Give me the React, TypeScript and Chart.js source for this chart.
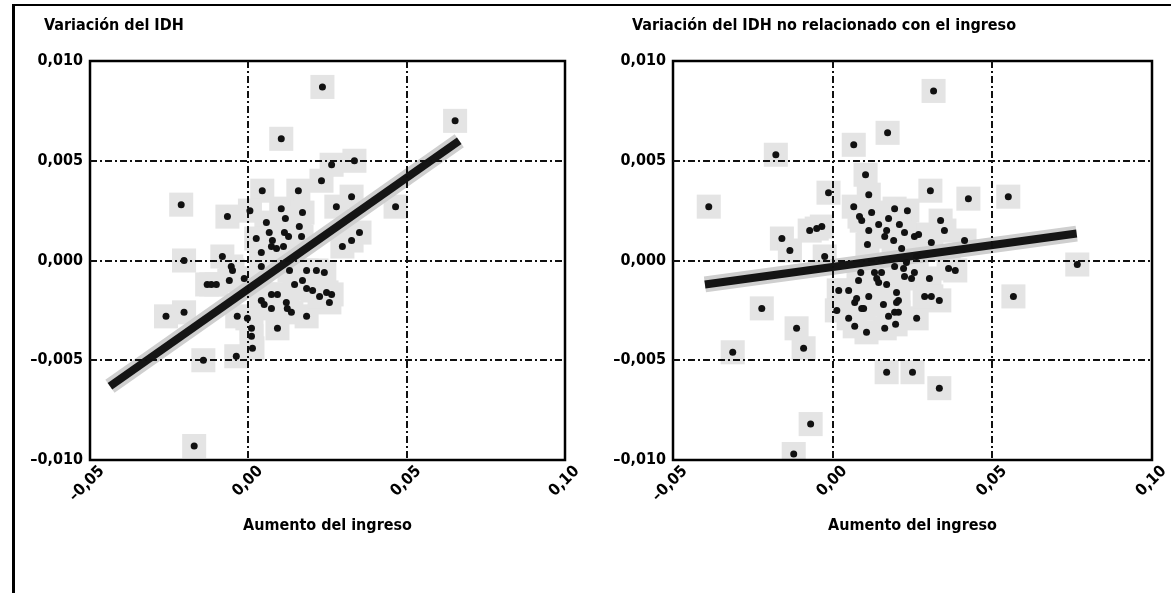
import React, { useEffect, useRef } from 'react';
import { Chart, registerables } from 'chart.js';

Chart.register(...registerables);

const FONT = "'Liberation Sans Narrow', 'DejaVu Sans Condensed', 'Arial Narrow', sans-serif";

// Axis texts
const xTickLabels = ['–0,05', '0,00', '0,05', '0,10'];
const yTickLabels = ['–0,010', '–0,005', '0,000', '0,005', '0,010'];
const xAxisTitle = 'Aumento del ingreso';
const leftTitle = 'Variación del IDH';
const rightTitle = 'Variación del IDH no relacionado con el ingreso';

// Left panel: Variación del IDH vs aumento del ingreso
const leftX = [
  0.0234, 0.0104, 0.0263, 0.0335, 0.0231, 0.0044, 0.0158, 0.0326, -0.0212, -0.0066,
  0.0104, 0.0171, 0.0278, 0.0465, 0.0005, 0.0057, 0.0117, 0.0066, 0.0114, 0.0161,
  0.0351, 0.0025, 0.0076, 0.0127, 0.0168, 0.0297, 0.0326, 0.0041, 0.0073, 0.0111,
  -0.0082, -0.0203, -0.0054, -0.0050, 0.0041, 0.0130, 0.0184, 0.0215, 0.0240, -0.0117,
  -0.0101, -0.0060, 0.0146, 0.0171, 0.0184, 0.0203, 0.0247, 0.0073, 0.0092, 0.0041,
  0.0123, 0.0136, 0.0073, 0.0184, -0.0203, -0.0260, 0.0256, -0.0035, -0.0003, 0.0010,
  0.0092, 0.0010, 0.0013, -0.0038, -0.0142, -0.0171, 0.0653, -0.0013, 0.0225, 0.0263,
  0.0050, 0.0089, -0.0130, 0.0120,
];
const leftY = [
  0.0087, 0.0061, 0.0048, 0.0050, 0.0040, 0.0035, 0.0035, 0.0032, 0.0028, 0.0022,
  0.0026, 0.0024, 0.0027, 0.0027, 0.0025, 0.0019, 0.0021, 0.0014, 0.0014, 0.0017,
  0.0014, 0.0011, 0.0010, 0.0012, 0.0012, 0.0007, 0.0010, 0.0004, 0.0007, 0.0007,
  0.0002, 0.0000, -0.0003, -0.0005, -0.0003, -0.0005, -0.0005, -0.0005, -0.0006, -0.0012,
  -0.0012, -0.0010, -0.0012, -0.0010, -0.0014, -0.0015, -0.0016, -0.0017, -0.0017, -0.0020,
  -0.0024, -0.0026, -0.0024, -0.0028, -0.0026, -0.0028, -0.0021, -0.0028, -0.0029, -0.0034,
  -0.0034, -0.0038, -0.0044, -0.0048, -0.0050, -0.0093, 0.0070, -0.0009, -0.0018, -0.0017,
  -0.0022, 0.0006, -0.0012, -0.0021,
];
const leftFitX = [-0.0437, 0.0666];
const leftFitY = [-0.0063, 0.0060];

// Right panel: Variación del IDH no relacionado con el ingreso
const rightX = [
  0.0316, 0.0172, 0.0066, -0.0178, 0.0103, -0.0013, 0.0113, 0.0306, 0.0425, -0.0388,
  0.0066, 0.0122, 0.0194, 0.0234, 0.0338, 0.0091, 0.0144, 0.0175, 0.0209, 0.0256,
  0.0309, 0.0350, 0.0413, -0.0034, -0.0072, -0.0050, -0.0159, -0.0134, -0.0025, 0.0109,
  0.0163, 0.0191, 0.0216, 0.0113, 0.0169, 0.0269, 0.0263, 0.0194, 0.0222, 0.0131,
  0.0088, 0.0144, 0.0169, 0.0247, 0.0303, 0.0363, 0.0384, 0.0309, 0.0334, 0.0081,
  0.0050, 0.0019, 0.0069, 0.0113, 0.0159, 0.0194, 0.0175, 0.0013, 0.0050, -0.0222,
  -0.0113, 0.0106, 0.0069, -0.0091, -0.0313, 0.0169, 0.0250, 0.0334, -0.0069, -0.0122,
  0.0097, 0.0200, 0.0206, 0.0197, 0.0263, 0.0288, 0.0138, 0.0225, 0.0550, 0.0766,
  0.0566, 0.0075, 0.0091, 0.0206, 0.0163, 0.0256, 0.0153, 0.0200, 0.0231, 0.0225,
  0.0084,
];
const rightY = [
  0.0085, 0.0064, 0.0058, 0.0053, 0.0043, 0.0034, 0.0033, 0.0035, 0.0031, 0.0027,
  0.0027, 0.0024, 0.0026, 0.0025, 0.0020, 0.0020, 0.0018, 0.0021, 0.0018, 0.0012,
  0.0009, 0.0015, 0.0010, 0.0017, 0.0015, 0.0016, 0.0011, 0.0005, 0.0002, 0.0008,
  0.0012, 0.0010, 0.0006, 0.0015, 0.0015, 0.0013, 0.0002, -0.0003, -0.0004, -0.0006,
  -0.0006, -0.0011, -0.0012, -0.0009, -0.0009, -0.0004, -0.0005, -0.0018, -0.0020, -0.0010,
  -0.0015, -0.0015, -0.0021, -0.0018, -0.0022, -0.0026, -0.0028, -0.0025, -0.0029, -0.0024,
  -0.0034, -0.0036, -0.0033, -0.0044, -0.0046, -0.0056, -0.0056, -0.0064, -0.0082, -0.0097,
  -0.0024, -0.0021, -0.0026, -0.0032, -0.0029, -0.0018, -0.0009, -0.0008, 0.0032, -0.0002,
  -0.0018, -0.0019, -0.0024, -0.0020, -0.0034, -0.0006, -0.0006, -0.0016, -0.0001, 0.0014,
  0.0022,
];
const rightFitX = [-0.0400, 0.0764];
const rightFitY = [-0.0012, 0.00135];

const framePlugin = {
  id: 'frameBox',
  afterDatasetsDraw(chart: any) {
    const { ctx, chartArea: a } = chart;
    ctx.save();
    ctx.strokeStyle = '#000';
    ctx.lineWidth = 2.5;
    ctx.strokeRect(a.left, a.top, a.right - a.left, a.bottom - a.top);
    ctx.restore();
  },
};

const cornerTitlePlugin = {
  id: 'cornerTitle',
  afterDraw(chart: any, _args: any, opts: any) {
    const { ctx, chartArea } = chart;
    ctx.save();
    ctx.font = `bold ${opts.size}px ${FONT}`;
    ctx.fillStyle = '#000';
    ctx.textBaseline = 'middle';
    ctx.textAlign = 'left';
    ctx.fillText(opts.text, chartArea.left + opts.dx, opts.y);
    ctx.restore();
  },
};

type PanelProps = {
  xs: number[];
  ys: number[];
  fitX: number[];
  fitY: number[];
  title: string;
  left: number;
  width: number;
  yWidth: number;
  padRight: number;
  titleDx: number;
};

function ScatterPanel(p: PanelProps) {
  const ref = useRef<HTMLCanvasElement | null>(null);
  useEffect(() => {
    const pts = p.xs.map((x, i) => ({ x, y: p.ys[i] }));
    const fit = p.fitX.map((x, i) => ({ x, y: p.fitY[i] }));
    const tickFont = { family: FONT, size: 16, weight: 'bold' as const };
    const gridColor = (n: number) => (c: any) =>
      c.index === 0 || c.index === n - 1 ? 'rgba(0,0,0,0)' : '#111';
    const chart = new Chart(ref.current as HTMLCanvasElement, {
      type: 'scatter',
      data: {
        datasets: [
          {
            data: pts,
            pointRadius: 3.5,
            pointHoverRadius: 3.5,
            backgroundColor: '#111',
            borderWidth: 0,
          },
          {
            data: fit,
            showLine: true,
            pointRadius: 0,
            borderColor: '#151515',
            borderWidth: 8,
            borderCapStyle: 'butt',
          },
          {
            data: fit,
            showLine: true,
            pointRadius: 0,
            borderColor: '#cfcfcf',
            borderWidth: 16,
            borderCapStyle: 'butt',
          },
          {
            data: pts,
            pointStyle: 'rect',
            pointRadius: 17,
            pointHoverRadius: 17,
            backgroundColor: '#e4e4e4',
            borderWidth: 0,
          },
        ] as any,
      },
      options: {
        animation: false,
        responsive: false,
        events: [],
        layout: { padding: { left: 0, right: p.padRight, top: 61, bottom: 0 } },
        plugins: {
          legend: { display: false },
          tooltip: { enabled: false },
          cornerTitle: { text: p.title, dx: p.titleDx, y: 26, size: 16 },
        } as any,
        scales: {
          x: {
            type: 'linear',
            min: -0.05,
            max: 0.1,
            afterFit: (s: any) => {
              s.height = 133;
            },
            ticks: {
              stepSize: 0.05,
              autoSkip: false,
              minRotation: 45,
              maxRotation: 45,
              padding: 2,
              labelOffset: 12,
              color: '#000',
              font: tickFont,
              callback: (_v: any, i: number) => xTickLabels[i],
            },
            grid: { color: gridColor(4), lineWidth: 2, drawTicks: false, z: 1 },
            border: { display: false, dash: [7, 3, 2, 3] },
            title: {
              display: true,
              text: xAxisTitle,
              color: '#000',
              font: tickFont,
              padding: { top: 0, bottom: 58 },
            },
          },
          y: {
            type: 'linear',
            min: -0.01,
            max: 0.01,
            afterFit: (s: any) => {
              s.width = p.yWidth;
            },
            ticks: {
              stepSize: 0.005,
              padding: 7,
              color: '#000',
              font: tickFont,
              callback: (_v: any, i: number) => yTickLabels[i],
            },
            grid: { color: gridColor(5), lineWidth: 2, drawTicks: false, z: 1 },
            border: { display: false, dash: [7, 3, 2, 3] },
          },
        },
      } as any,
      plugins: [framePlugin, cornerTitlePlugin],
    });
    return () => chart.destroy();
  }, []);
  return (
    <canvas
      ref={ref}
      width={p.width}
      height={593}
      style={{ position: 'absolute', left: p.left, top: 0, width: p.width, height: 593 }}
    />
  );
}

export default function App() {
  return (
    <div
      style={{
        position: 'absolute',
        left: 0,
        top: 0,
        width: 1171,
        height: 593,
        background: '#fff',
        overflow: 'hidden',
      }}
    >
      <div
        style={{
          position: 'absolute',
          left: 12,
          top: 4,
          width: 1180,
          height: 620,
          borderLeft: '3px solid #000',
          borderTop: '2px solid #000',
        }}
      />
      <ScatterPanel
        xs={leftX}
        ys={leftY}
        fitX={leftFitX}
        fitY={leftFitY}
        title={leftTitle}
        left={0}
        width={585}
        yWidth={90}
        padRight={20}
        titleDx={-46}
      />
      <ScatterPanel
        xs={rightX}
        ys={rightY}
        fitX={rightFitX}
        fitY={rightFitY}
        title={rightTitle}
        left={585}
        width={586}
        yWidth={88}
        padRight={19}
        titleDx={-41}
      />
    </div>
  );
}
